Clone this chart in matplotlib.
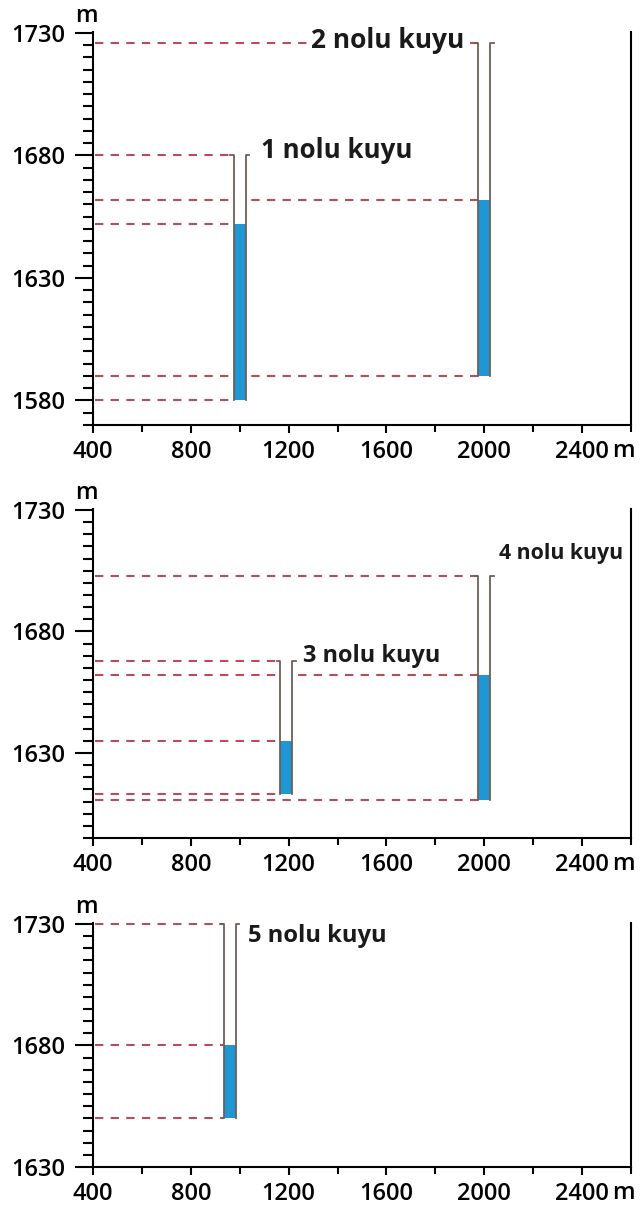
import matplotlib.pyplot as plt
from matplotlib.ticker import MultipleLocator

plt.rcParams['font.family'] = ['Open Sans', 'DejaVu Sans']

# kuyu verileri
well_names = ["1 nolu kuyu", "2 nolu kuyu", "3 nolu kuyu", "4 nolu kuyu", "5 nolu kuyu"]
well_x = [1000, 2000, 1190, 2000, 960]
well_top = [1680, 1726, 1668, 1703, 1730]
well_water = [1652, 1662, 1635, 1662, 1680]
well_bottom = [1580, 1590, 1613, 1610.5, 1650]
well_panel = [0, 0, 1, 1, 2]
label_x = [1085, 1290, 1260, 2060, 1035]
label_y = [1682, 1727, 1670, 1712, 1725]
label_size = [18.6, 19, 16.9, 15.3, 17.1]

panel_ylim = [(1570, 1730.4), (1595, 1730.4), (1630, 1730.4)]
panel_yticks = [[1580, 1630, 1680, 1730], [1630, 1680, 1730], [1630, 1680, 1730]]
x_ticks = [400, 800, 1200, 1600, 2000, 2400]
x_lim = (400, 2600)

# piksel konumlari (ust, alt)
panel_px = [(32, 425), (509, 838), (923, 1167)]
W, H = 641, 1207

well_w = 50
hook = 14
blue = "#1f97d4"
dash_col = "#b24f5a"
casing_col = "#6e5f56"

fig = plt.figure(figsize=(W / 100, H / 100), dpi=100)
axes = []
for p, (top_px, bot_px) in enumerate(panel_px):
    ax = fig.add_axes([93 / W, (H - bot_px) / H, 538 / W, (bot_px - top_px) / H])
    ax.set_xlim(*x_lim)
    ax.set_ylim(*panel_ylim[p])
    ax.set_xticks(x_ticks)
    ax.set_yticks(panel_yticks[p])
    ax.xaxis.set_minor_locator(MultipleLocator(200))
    ax.yaxis.set_minor_locator(MultipleLocator(5))
    ax.tick_params(axis="y", which="major", direction="out", length=13, width=1.5,
                   labelsize=17, pad=7)
    ax.tick_params(axis="y", which="minor", direction="out", length=7, width=1.5)
    ax.tick_params(axis="x", which="major", direction="out", length=6, width=1.5,
                   labelsize=17, pad=5)
    ax.tick_params(axis="x", which="minor", direction="out", length=5, width=1.5)
    for lab in ax.get_xticklabels() + ax.get_yticklabels():
        lab.set_fontweight("semibold")
    ax.spines["top"].set_visible(False)
    for s in ["left", "right", "bottom"]:
        ax.spines[s].set_linewidth(1.5)
    ax.annotate("m", xy=(0, 1), xycoords="axes fraction", xytext=(-5, 3),
                textcoords="offset points", ha="center", va="bottom", fontsize=17,
                fontweight="semibold")
    ax.annotate("m", xy=(2568, 0), xycoords=("data", "axes fraction"), xytext=(0, -10),
                textcoords="offset points", ha="center", va="top", fontsize=17,
                fontweight="semibold")
    axes.append(ax)

for i, name in enumerate(well_names):
    ax = axes[well_panel[i]]
    x = well_x[i]
    xl, xr = x - well_w / 2, x + well_w / 2
    # kesik cizgiler
    for y in [well_top[i], well_water[i], well_bottom[i]]:
        ax.hlines(y, x_lim[0] + 8, xl, colors=dash_col, linestyles=(0, (4, 3.5)), lw=1.5, zorder=2)
    ax.fill_between([xl, xr], well_bottom[i], well_top[i], color="white", zorder=3)
    ax.fill_between([xl, xr], well_bottom[i], well_water[i], color=blue, lw=0, zorder=4)
    ax.plot([xl - hook, xl, xl], [well_top[i], well_top[i], well_bottom[i]],
            color=casing_col, lw=1.3, zorder=5)
    ax.plot([xr + hook, xr, xr], [well_top[i], well_top[i], well_bottom[i]],
            color=casing_col, lw=1.3, zorder=5)
    ax.text(label_x[i], label_y[i], name, ha="left", va="center", fontsize=label_size[i],
            fontweight="bold", color="#1a1a1a", zorder=6,
            bbox=dict(facecolor="white", edgecolor="none", pad=1))

fig.savefig("out.png", dpi=100)
